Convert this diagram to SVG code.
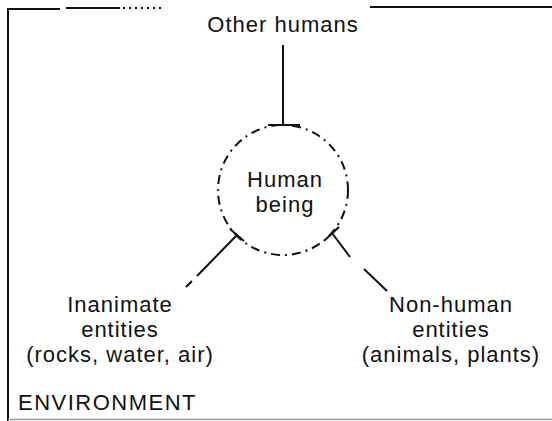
<svg xmlns="http://www.w3.org/2000/svg" width="552" height="421" viewBox="0 0 552 421">
<style>
text{font-family:"Liberation Sans",Arial,sans-serif;font-size:22px;letter-spacing:1px;fill:#111;text-anchor:middle}
.ln{stroke:#111;stroke-width:2;fill:none}
</style>
<rect width="552" height="421" fill="#fff"/>
<g id="environment">
<path class="ln" d="M8,421 V9 H60 M66,8 H120 M370,7 H552" stroke-width="2.5"/>
<path class="ln" d="M123,8 H163" stroke-dasharray="2 4"/>
<path d="M8,419.5 H552" stroke="#999" stroke-width="1.5"/>
<text x="18" y="410" style="text-anchor:start;letter-spacing:1.5px">ENVIRONMENT</text>
</g>
<g id="other-humans"><text x="283" y="32">Other humans</text></g>
<g id="human-being">
<circle cx="283" cy="190" r="65" class="ln" stroke-dasharray="9 5 2 5"/>
<text x="285" y="187">Human</text>
<text x="285" y="212">being</text>
</g>
<g id="inanimate">
<text x="120" y="312">Inanimate</text>
<text x="120" y="337">entities</text>
<text x="120" y="362">(rocks, water, air)</text>
</g>
<g id="non-human">
<text x="451" y="312">Non-human</text>
<text x="451" y="337">entities</text>
<text x="451" y="362">(animals, plants)</text>
</g>
<g id="connectors">
<path class="ln" d="M283,45 V125 M268,125 H300"/>
<path class="ln" d="M237,235 L197,276 M192,281 L186,287"/>
<path class="ln" d="M230,229 L244,241" stroke-width="1.5"/>
<path class="ln" d="M332,233 L350,257 M364,269 L387,291"/>
<path class="ln" d="M325,240 L339,227" stroke-width="1.5"/>
</g>
</svg>
